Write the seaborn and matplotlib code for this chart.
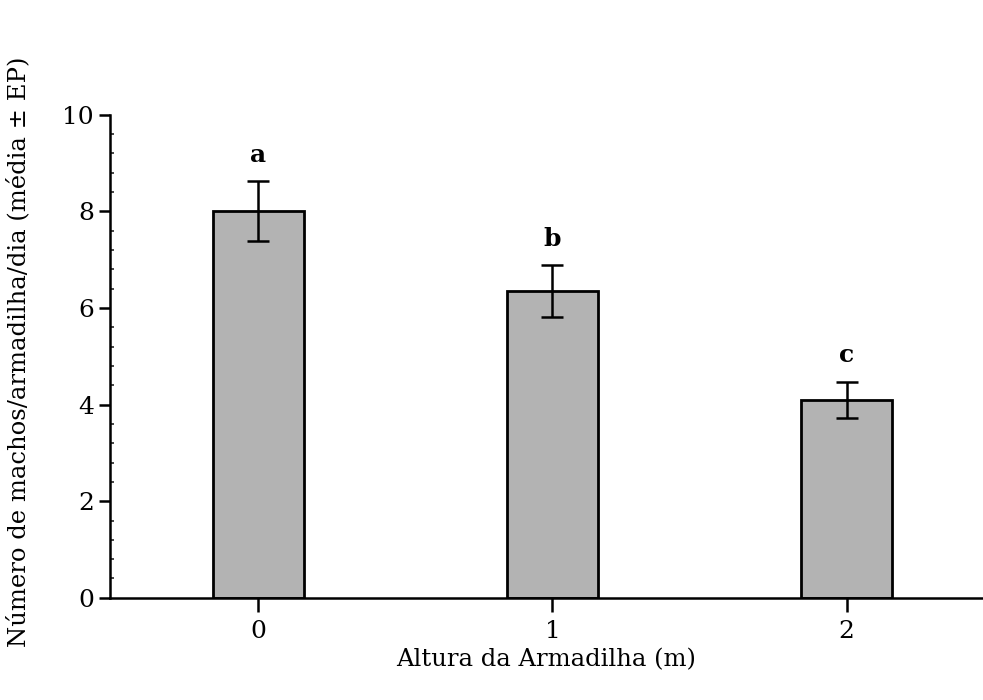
import matplotlib
matplotlib.use("Agg")
import matplotlib.pyplot as plt
from matplotlib.ticker import MultipleLocator
import seaborn as sns
import pandas as pd

# =========================================================
# DATA
# =========================================================

alturas = ["0", "1", "2"]
medias = [8.0, 6.35, 4.1]
erros = [0.62, 0.53, 0.37]
letras = ["a", "b", "c"]

df = pd.DataFrame({"altura": alturas, "media": medias})

# =========================================================
# PLOT
# =========================================================

sns.set_style("ticks")
plt.rcParams["font.family"] = ["DejaVu Serif"]
plt.rcParams["text.color"] = "black"
plt.rcParams["axes.labelcolor"] = "black"

fig = plt.figure(figsize=(9.83, 7.0), dpi=100)
ax = fig.add_axes([0.112, 0.146, 0.887, 0.69])

sns.barplot(
    data=df, x="altura", y="media", ax=ax,
    color="#b3b3b3", width=0.31,
    edgecolor="black", linewidth=2, saturation=1
)

xs = [p.get_x() + p.get_width() / 2 for p in ax.patches]
ax.errorbar(xs, medias, yerr=erros, fmt="none", ecolor="black",
            elinewidth=1.8, capsize=8, capthick=1.8)

for x, m, e, l in zip(xs, medias, erros, letras):
    ax.text(x, m + e + 0.3, l, ha="center", va="bottom",
            fontsize=18, fontweight="bold", color="black")

ax.set_xlim(-0.503, 2.46)
ax.set_ylim(0, 10)
ax.yaxis.set_major_locator(MultipleLocator(2))
ax.yaxis.set_minor_locator(MultipleLocator(0.4))

ax.tick_params(axis="both", which="major", direction="out", length=8,
               width=1.8, labelsize=18, colors="black")
ax.tick_params(axis="x", which="major", length=10, pad=6)
ax.tick_params(axis="y", which="minor", direction="in", length=3, width=1.2)

sns.despine(ax=ax)
for s in ["left", "bottom"]:
    ax.spines[s].set_linewidth(1.8)
    ax.spines[s].set_color("black")

ax.set_xlabel("Altura da Armadilha (m)", fontsize=17.5, labelpad=4)
ax.set_ylabel("Número de machos/armadilha/dia (média ± EP)", fontsize=17.5)
ax.yaxis.set_label_coords(-0.092, 0.51)

plt.savefig("out.png", dpi=100)
plt.close()
